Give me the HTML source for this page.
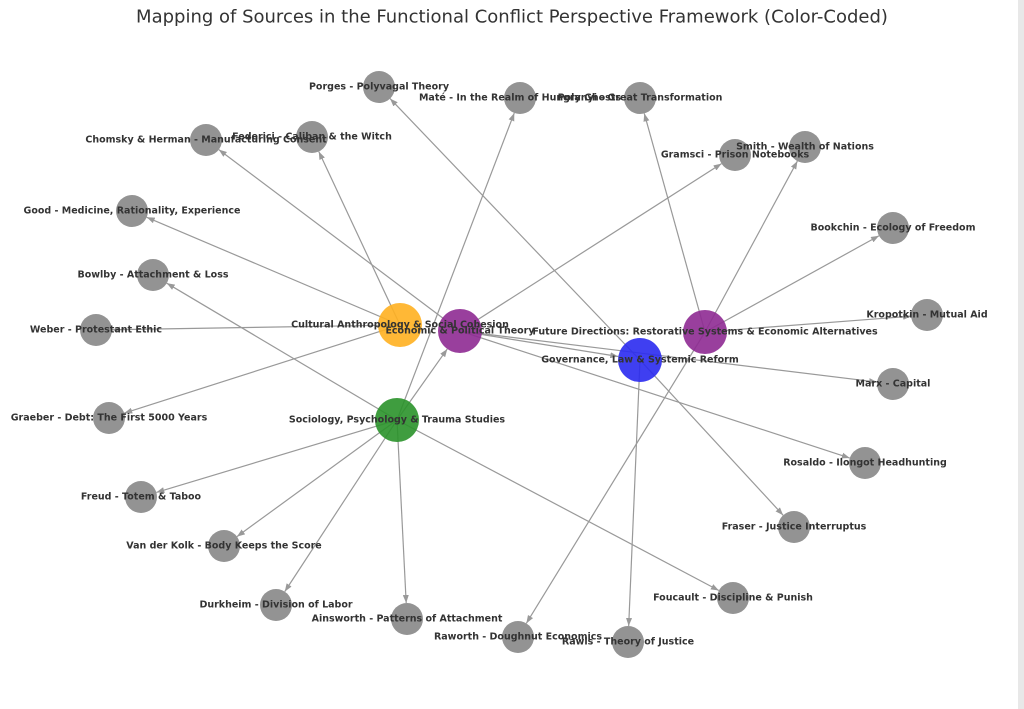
<!DOCTYPE html>
<html><head><meta charset="utf-8"><style>
html,body{margin:0;padding:0;background:#fff;}
svg{display:block;font-family:"DejaVu Sans","Liberation Sans",sans-serif;}
.l{font-size:9.5px;font-weight:bold;fill:#333;text-anchor:middle;dominant-baseline:central;}
line{stroke:#999;stroke-width:1.2;}
</style></head><body>
<svg width="1024" height="709" viewBox="0 0 1024 709">
<defs><marker id="a" markerWidth="8" markerHeight="6" refX="8" refY="3" orient="auto" markerUnits="userSpaceOnUse"><path d="M0,0L8,3L0,6z" fill="#999"/></marker></defs>
<rect x="1018" y="0" width="6" height="709" fill="#e8e8e8"/>
<text x="512" y="17" font-size="18" fill="#333" text-anchor="middle" dominant-baseline="central" font-family="DejaVu Sans,sans-serif">Mapping of Sources in the Functional Conflict Perspective Framework (Color-Coded)</text>
<g id="edges"></g>
<g id="nodes"></g>
<g id="labels"></g>
</svg>
<script>
const N={
O:[400,325,22,'#ffb020','Cultural Anthropology & Social Cohesion'],
E:[460,331,22,'#8e2a92','Economic & Political Theory'],
F:[705,332,22,'#8e2a92','Future Directions: Restorative Systems & Economic Alternatives'],
B:[640,360,22,'#2a2af0','Governance, Law & Systemic Reform'],
G:[397,420,22,'#2a922a','Sociology, Psychology & Trauma Studies'],
porges:[379,87,16,0,'Porges - Polyvagal Theory'],
mate:[520,98,16,0,'Maté - In the Realm of Hungry Ghosts'],
polanyi:[640,98,16,0,'Polanyi - Great Transformation'],
chomsky:[206,140,16,0,'Chomsky & Herman - Manufacturing Consent'],
federici:[312,137,16,0,'Federici - Caliban & the Witch'],
smith:[805,147,16,0,'Smith - Wealth of Nations'],
gramsci:[735,155,16,0,'Gramsci - Prison Notebooks'],
good:[132,211,16,0,'Good - Medicine, Rationality, Experience'],
bookchin:[893,228,16,0,'Bookchin - Ecology of Freedom'],
bowlby:[153,275,16,0,'Bowlby - Attachment & Loss'],
kropotkin:[927,315,16,0,'Kropotkin - Mutual Aid'],
weber:[96,330,16,0,'Weber - Protestant Ethic'],
marx:[893,384,16,0,'Marx - Capital'],
graeber:[109,418,16,0,'Graeber - Debt: The First 5000 Years'],
rosaldo:[865,463,16,0,'Rosaldo - Ilongot Headhunting'],
freud:[141,497,16,0,'Freud - Totem & Taboo'],
fraser:[794,527,16,0,'Fraser - Justice Interruptus'],
vdk:[224,546,16,0,'Van der Kolk - Body Keeps the Score'],
foucault:[733,598,16,0,'Foucault - Discipline & Punish'],
durkheim:[276,605,16,0,'Durkheim - Division of Labor'],
ainsworth:[407,619,16,0,'Ainsworth - Patterns of Attachment'],
raworth:[518,637,16,0,'Raworth - Doughnut Economics'],
rawls:[628,642,16,0,'Rawls - Theory of Justice']};
const E=[['O','federici'],['O','good'],['O','weber'],['O','graeber'],['E','chomsky'],['E','gramsci'],['E','marx'],['E','rosaldo'],['E','B'],
['G','mate'],['G','bowlby'],['G','freud'],['G','vdk'],['G','durkheim'],['G','ainsworth'],['G','foucault'],['G','E'],
['B','porges'],['B','rawls'],['B','fraser'],
['F','polanyi'],['F','smith'],['F','bookchin'],['F','kropotkin'],['F','raworth']];
const ns='http://www.w3.org/2000/svg';
const ge=document.getElementById('edges'),gn=document.getElementById('nodes'),gl=document.getElementById('labels');
for(const[a,b]of E){const p=N[a],q=N[b];const dx=q[0]-p[0],dy=q[1]-p[1],d=Math.hypot(dx,dy);
const l=document.createElementNS(ns,'line');l.setAttribute('x1',p[0]);l.setAttribute('y1',p[1]);
l.setAttribute('x2',q[0]-dx/d*q[2]);l.setAttribute('y2',q[1]-dy/d*q[2]);l.setAttribute('marker-end','url(#a)');ge.appendChild(l);}
for(const k in N){const n=N[k];const c=document.createElementNS(ns,'circle');c.setAttribute('cx',n[0]);c.setAttribute('cy',n[1]);c.setAttribute('r',n[2]);
c.setAttribute('fill',n[3]||'#808080');c.setAttribute('fill-opacity',n[3]?0.9:0.85);gn.appendChild(c);
const t=document.createElementNS(ns,'text');t.setAttribute('class','l');t.setAttribute('x',n[0]);t.setAttribute('y',n[1]);t.textContent=n[4];gl.appendChild(t);}
</script>
</body></html>
